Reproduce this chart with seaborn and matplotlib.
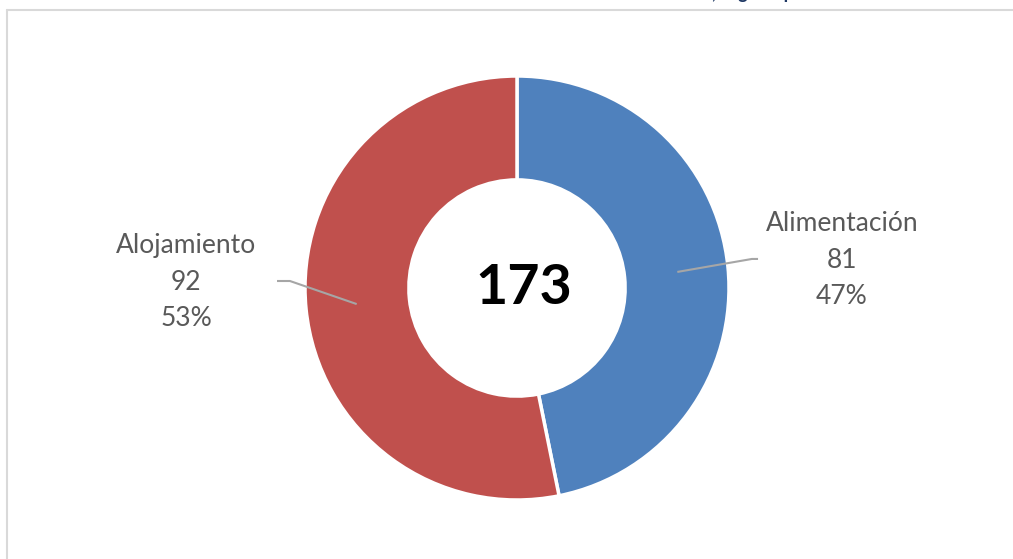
import numpy as np
import seaborn as sns
import matplotlib.pyplot as plt
from matplotlib.lines import Line2D

# data
categories = ["Alimentación", "Alojamiento"]
values = [81, 92]
colors = ["#4F81BD", "#C0504D"]
title_fragment = ", según tipo"

sns.set_theme(style="white")
plt.rcParams["font.family"] = ["Lato", "DejaVu Sans"]

fig = plt.figure(figsize=(10.13, 5.59), dpi=100)
ax = fig.add_axes([0, 0, 1, 1])

wedges, _ = ax.pie(values, colors=colors, startangle=90, counterclock=False,
                   radius=1, wedgeprops=dict(width=0.49, edgecolor="white", linewidth=2.5))

# pie resets the limits, so set them afterwards (1 unit = 212 px)
ax.set_xlim(-517 / 212, (1013 - 517) / 212)
ax.set_ylim(-(559 - 288) / 212, 288 / 212)
ax.set_aspect("auto")
ax.axis("off")

total = sum(values)
ax.text(0.03, 0.0, str(total), ha="center", va="center", fontsize=40,
        fontweight="bold", color="black")

# label positions (x of text centre, y of middle line, elbow x, end x)
label_pos = [(1.533, 0.132, 1.108, 1.137), (-1.561, 0.028, -1.071, -1.132)]
for w, cat, v, (tx, ty, ex, ex2) in zip(wedges, categories, values, label_pos):
    ang = np.deg2rad((w.theta1 + w.theta2) / 2)
    r = 0.76
    ax0, ay0 = r * np.cos(ang), r * np.sin(ang)
    ey = ty + 0.005
    ax.plot([ax0, ex, ex2], [ay0, ey, ey], color="#A6A6A6", lw=1.5,
            solid_capstyle="butt")
    pct = round(v / total * 100)
    ax.text(tx, ty, f"{cat}\n{v}\n{pct}%", ha="center", va="center",
            fontsize=19, color="#595959", linespacing=1.57)

# frame of the chart area
fig.add_artist(Line2D([7 / 1013, 1], [1 - 10 / 559, 1 - 10 / 559],
                      color="#D9D9D9", lw=1.5))
fig.add_artist(Line2D([7 / 1013, 7 / 1013], [0, 1 - 10 / 559],
                      color="#D9D9D9", lw=1.5))

# cut-off title at the top edge
fig.text(712 / 1013, 1 + 0.5 / 559, title_fragment, ha="left", va="baseline",
         fontsize=13, fontweight="bold", color="#1F3864")

fig.savefig("out.png", dpi=100)
